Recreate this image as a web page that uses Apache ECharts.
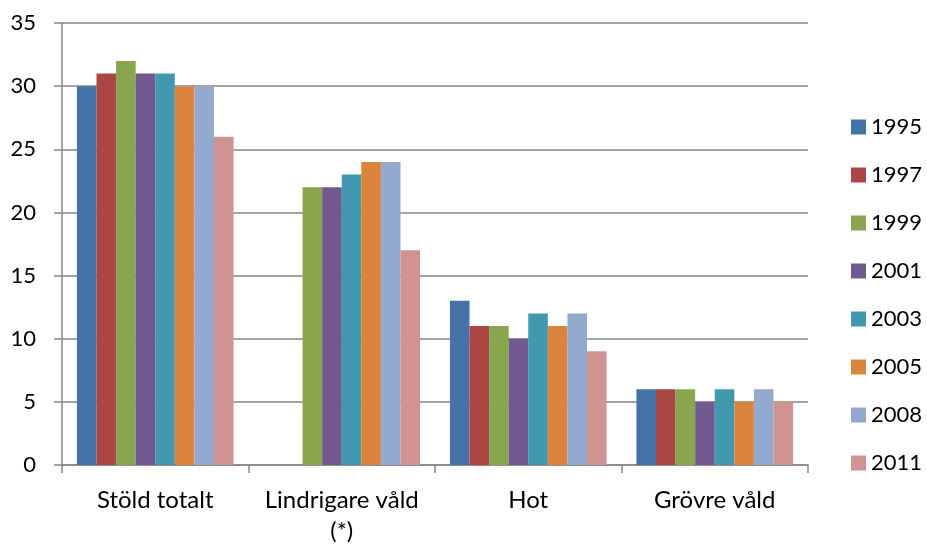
<!DOCTYPE html>
<html>
<head>
<meta charset="utf-8">
<script src="https://cdn.jsdelivr.net/npm/echarts@6/dist/echarts.min.js"></script>
<style>html,body{margin:0;padding:0;background:#fff}#c{width:927px;height:547px}</style>
</head>
<body>
<div id="c"></div>
<script>
const categories = ['Stöld totalt', 'Lindrigare våld\n(*)', 'Hot', 'Grövre våld'];
const years = ['1995', '1997', '1999', '2001', '2003', '2005', '2008', '2011'];
const v1995 = [30, null, 13, 6];
const v1997 = [31, null, 11, 6];
const v1999 = [32, 22, 11, 6];
const v2001 = [31, 22, 10, 5];
const v2003 = [31, 23, 12, 6];
const v2005 = [30, 24, 11, 5];
const v2008 = [30, 24, 12, 6];
const v2011 = [26, 17, 9, 5];
const seriesValues = [v1995, v1997, v1999, v2001, v2003, v2005, v2008, v2011];
const colors = ['#4572A7', '#AA4643', '#89A54E', '#71588F', '#4198AF', '#DB843D', '#93A9CF', '#D19392'];
const FONT = 'Lato, "Open Sans", sans-serif';

const chart = echarts.init(document.getElementById('c'), null, {renderer: 'canvas'});
chart.setOption({
  animation: false,
  color: colors,
  textStyle: {fontFamily: FONT},
  grid: {left: 62, right: 119, top: 23, bottom: 78, containLabel: false},
  legend: {
    orient: 'vertical', left: 851, top: 116, padding: 0,
    itemWidth: 15, itemHeight: 15, itemGap: 26,
    icon: 'rect',
    textStyle: {fontSize: 22, color: '#000', fontFamily: FONT, lineHeight: 22, padding: [0, 0, 0, 0]},
    data: years
  },
  xAxis: {
    type: 'category', data: categories,
    axisLine: {lineStyle: {color: '#868686', width: 1.5}},
    axisTick: {show: true, length: 8, interval: 0, lineStyle: {color: '#868686', width: 1.5}},
    axisLabel: {fontSize: 24, color: '#000', margin: 20, lineHeight: 31, interval: 0, fontFamily: FONT}
  },
  yAxis: {
    type: 'value', min: 0, max: 35, interval: 5,
    axisLine: {show: true, lineStyle: {color: '#868686', width: 1.5}},
    axisTick: {show: true, length: 8, lineStyle: {color: '#868686', width: 1.5}},
    splitLine: {lineStyle: {color: '#868686', width: 1.5}},
    axisLabel: {fontSize: 22, color: '#000', margin: 26, fontFamily: FONT}
  },
  series: years.map((y, i) => ({
    name: y, type: 'bar', data: seriesValues[i],
    barGap: '0%', barCategoryGap: '16%',
    itemStyle: {color: colors[i]}
  }))
});
</script>
</body>
</html>
